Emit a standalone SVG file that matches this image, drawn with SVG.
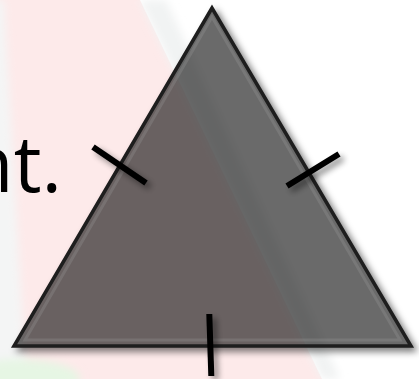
<svg xmlns="http://www.w3.org/2000/svg" width="419" height="379" viewBox="0 0 419 379">
  <defs>
    <filter id="shadow" x="-20%" y="-20%" width="140%" height="140%">
      <feGaussianBlur in="SourceAlpha" stdDeviation="3"/>
      <feOffset dx="4" dy="4" result="b"/>
      <feComponentTransfer><feFuncA type="linear" slope="0.45"/></feComponentTransfer>
      <feMerge><feMergeNode/><feMergeNode in="SourceGraphic"/></feMerge>
    </filter>
    <filter id="blurShadow" x="-20%" y="-20%" width="140%" height="140%">
      <feGaussianBlur stdDeviation="3.5"/>
    </filter>
    <filter id="soft" x="-50%" y="-50%" width="200%" height="200%">
      <feGaussianBlur stdDeviation="4"/>
    </filter>
    <mask id="outsideTri" maskUnits="userSpaceOnUse" x="0" y="0" width="419" height="379">
      <rect x="0" y="0" width="419" height="379" fill="#fff"/>
      <polygon points="212,8 14,346 411,346" fill="#000"/>
    </mask>
  </defs>
  <style>
    .tick { stroke: #000; stroke-width: 6; stroke-linecap: butt; fill: none; }
    .label { font-family: "Open Sans", "Liberation Sans", sans-serif; font-size: 78px; fill: #000; }
  </style>

  <g id="background">
    <rect x="0" y="0" width="419" height="379" fill="#ffffff"/>
    <polygon points="0,0 140,0 322,379 0,379" fill="#fdeaea"/>
    <polygon points="140,0 166,0 340,379 322,379" fill="#f1f3f3" filter="url(#soft)"/>
    <polygon points="-10,0 4,0 26,379 -10,379" fill="#f4f5f5" filter="url(#soft)"/>
    <ellipse cx="20" cy="379" rx="60" ry="20" fill="#e6f6e4" filter="url(#soft)"/>
  </g>

  <g id="label">
    <text class="label" x="62" y="192" text-anchor="end">nt.</text>
  </g>

  <g id="triangle">
    <g mask="url(#outsideTri)">
      <polygon points="216,12 18,350 415,350" fill="#000" fill-opacity="0.45" stroke="#000" stroke-opacity="0.45" stroke-width="3.5" filter="url(#blurShadow)"/>
    </g>
    <polygon points="212,8 14,346 411,346" fill="#000" fill-opacity="0.585" stroke="#1e1e1e" stroke-width="3.5" stroke-linejoin="miter"/>
    <polygon points="212,17 25,340 400,340" fill="none" stroke="#999" stroke-opacity="0.3" stroke-width="3"/>
  </g>

  <g id="connectors" filter="url(#shadow)">
    <line class="tick" x1="93" y1="147" x2="146" y2="183"/>
    <line class="tick" x1="287" y1="186" x2="339" y2="154"/>
    <line class="tick" x1="209.3" y1="314" x2="211.3" y2="376"/>
  </g>
</svg>
